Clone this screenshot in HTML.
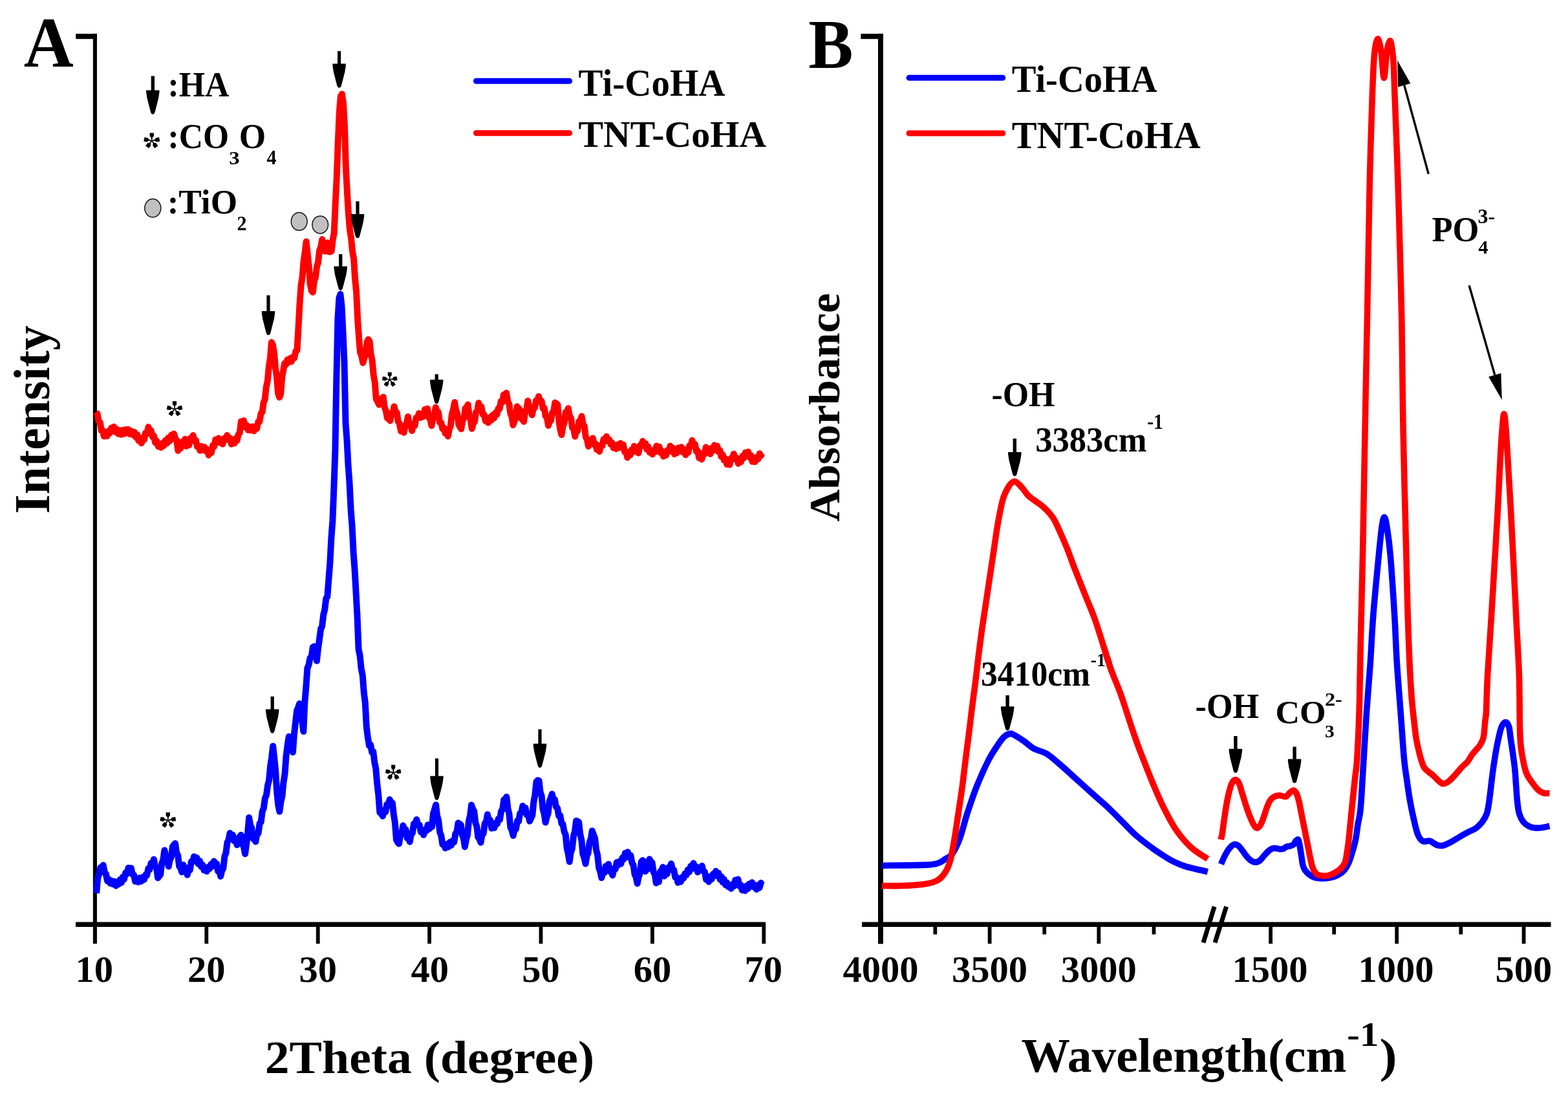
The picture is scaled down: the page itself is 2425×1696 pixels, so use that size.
<!DOCTYPE html>
<html><head><meta charset="utf-8"><title>XRD and FTIR spectra</title>
<style>
html,body{margin:0;padding:0;background:#fff;}
svg{display:block;}
text{font-family:"Liberation Serif","Times New Roman",serif;font-weight:bold;fill:#000;}
</style></head><body>
<svg width="2425" height="1696" viewBox="0 0 2425 1696">
<rect width="2425" height="1696" fill="#fff"/>

<g stroke="#000" fill="none" stroke-linecap="butt">
<path d="M117.2,56.2 L150,56.2" stroke-width="7.9"/>
<path d="M146.9,52.3 L146.9,1433" stroke-width="6.1"/>
<path d="M117,1429.2 L1184.1,1429.2" stroke-width="7.6"/>
<path d="M146.9,1429 L146.9,1459" stroke-width="6.1"/>
<path d="M319.3,1429 L319.3,1459" stroke-width="5.8"/>
<path d="M491.7,1429 L491.7,1459" stroke-width="5.8"/>
<path d="M664.1,1429 L664.1,1459" stroke-width="5.8"/>
<path d="M836.5,1429 L836.5,1459" stroke-width="5.8"/>
<path d="M1008.9,1429 L1008.9,1459" stroke-width="5.8"/>
<path d="M1181.3,1429 L1181.3,1459" stroke-width="5.8"/>
</g>
<text transform="translate(116.48,1517.83) scale(0.58500,0.57000)" font-size="100">10</text>
<text transform="translate(290.05,1517.83) scale(0.58500,0.57000)" font-size="100">20</text>
<text transform="translate(462.45,1517.83) scale(0.58500,0.57000)" font-size="100">30</text>
<text transform="translate(635.58,1517.83) scale(0.58500,0.57000)" font-size="100">40</text>
<text transform="translate(807.25,1517.83) scale(0.58500,0.57000)" font-size="100">50</text>
<text transform="translate(979.80,1517.83) scale(0.58500,0.57000)" font-size="100">60</text>
<text transform="translate(1151.61,1517.83) scale(0.58500,0.57000)" font-size="100">70</text>
<g stroke="#000" fill="none" stroke-linecap="butt">
<path d="M1331.3,56.2 L1365.9,56.2" stroke-width="7.9"/>
<path d="M1361.9,52.3 L1361.9,1433" stroke-width="7.9"/>
<path d="M1333,1429.2 L2398.6,1429.2" stroke-width="7.6"/>
<path d="M1530.6,1429 L1530.6,1459" stroke-width="5.8"/>
<path d="M1699.3,1429 L1699.3,1459" stroke-width="5.8"/>
<path d="M1965.1,1429 L1965.1,1459" stroke-width="5.8"/>
<path d="M2160.2,1429 L2160.2,1459" stroke-width="5.8"/>
<path d="M2356.6,1429 L2356.6,1459" stroke-width="5.8"/>
<path d="M1361.9,1429 L1361.9,1459.3" stroke-width="7.9"/>
<path d="M1446.3,1429 L1446.3,1444.6" stroke-width="5.8"/>
<path d="M1615.2,1429 L1615.2,1444.6" stroke-width="5.8"/>
<path d="M1784.5,1429 L1784.5,1444.6" stroke-width="5.8"/>
<path d="M2063.2,1429 L2063.2,1444.6" stroke-width="5.8"/>
<path d="M2259.3,1429 L2259.3,1444.6" stroke-width="5.8"/>
</g>
<g stroke="#000" stroke-width="7" fill="none"><path d="M1861,1457.4 L1878.1,1401.6"/><path d="M1879,1457.4 L1896.6,1401.6"/></g>
<text transform="translate(1303.53,1518.03) scale(0.58500,0.57000)" font-size="100">4000</text>
<text transform="translate(1472.10,1518.03) scale(0.58500,0.57000)" font-size="100">3500</text>
<text transform="translate(1640.80,1518.03) scale(0.58500,0.57000)" font-size="100">3000</text>
<text transform="translate(1905.43,1518.03) scale(0.58500,0.57000)" font-size="100">1500</text>
<text transform="translate(2100.53,1518.03) scale(0.58500,0.57000)" font-size="100">1000</text>
<text transform="translate(2312.43,1518.03) scale(0.58500,0.57000)" font-size="100">500</text>
<g fill="none" stroke-linejoin="round" stroke-linecap="butt">
<path d="M148.5,637.0 L150.6,639.8 L152.7,651.3 L154.8,653.1 L156.8,665.9 L158.9,665.7 L160.9,674.6 L163.3,670.1 L165.6,674.3 L167.6,666.6 L169.7,669.9 L172.1,661.5 L174.1,666.6 L176.2,659.7 L178.3,667.6 L180.5,663.6 L182.7,670.7 L185.0,665.3 L187.1,671.8 L189.5,664.9 L192.0,670.9 L194.3,664.0 L196.3,669.2 L198.7,664.0 L201.2,671.3 L203.3,666.6 L205.4,672.3 L207.8,667.9 L209.9,675.8 L212.2,671.9 L214.3,681.3 L216.5,676.7 L218.8,685.2 L220.9,677.4 L223.0,679.8 L225.0,669.2 L227.3,670.9 L229.5,660.1 L231.7,666.7 L233.7,665.8 L235.9,675.4 L237.9,673.8 L240.1,684.3 L242.4,681.8 L244.8,690.3 L246.8,686.2 L249.0,691.9 L251.2,685.1 L253.2,689.2 L255.6,681.0 L258.1,685.5 L260.1,676.9 L262.5,681.7 L264.9,672.6 L266.9,678.5 L269.0,670.5 L271.1,678.1 L273.2,680.2 L275.3,696.7 L277.4,689.5 L279.4,693.2 L281.6,683.1 L283.9,685.1 L286.1,678.8 L288.1,689.8 L290.3,687.1 L292.3,688.3 L294.4,677.4 L296.6,680.3 L298.6,673.1 L300.7,682.1 L302.9,680.6 L305.0,690.5 L307.1,689.2 L309.5,696.6 L311.7,690.1 L314.1,696.1 L316.2,691.0 L318.4,697.3 L320.6,695.0 L322.8,703.7 L324.8,696.7 L327.0,699.9 L329.1,688.4 L331.2,690.3 L333.4,679.4 L335.5,682.1 L338.0,677.6 L340.2,684.4 L342.2,681.3 L344.3,686.6 L346.7,677.8 L348.9,680.1 L351.2,673.0 L353.5,680.1 L355.7,677.2 L358.0,686.7 L360.0,680.4 L362.3,685.4 L364.4,677.9 L366.5,681.4 L368.7,671.8 L370.8,668.8 L372.9,651.4 L374.9,654.7 L377.0,650.3 L379.4,660.6 L381.4,657.6 L383.9,664.9 L386.1,659.8 L388.3,665.4 L390.6,659.4 L392.9,666.2 L395.1,659.8 L397.2,662.7 L399.4,652.1 L401.4,651.7 L403.5,639.5 L405.6,637.0 L407.6,622.3 L409.6,618.0 L411.7,598.7 L413.8,589.0 L415.8,567.0 L417.9,553.5 L419.9,529.3 L421.9,533.4 L424.0,545.2 L426.0,569.2 L428.0,582.1 L430.0,607.7 L432.1,614.2 L434.1,609.5 L436.1,584.0 L438.1,572.9 L440.2,561.7 L442.3,563.8 L444.4,556.1 L446.6,560.1 L448.7,553.9 L451.0,558.9 L453.2,551.6 L455.2,553.4 L457.4,543.0 L459.4,541.7 L461.4,508.5 L463.4,471.3 L465.4,442.3 L467.5,429.1 L469.5,405.0 L471.5,390.8 L473.6,373.5 L475.6,392.5 L477.6,410.2 L479.7,438.8 L481.7,449.2 L483.8,451.8 L485.9,434.4 L487.9,429.2 L490.0,412.1 L492.0,405.9 L494.1,386.9 L496.1,382.2 L498.3,370.1 L500.4,384.9 L502.5,388.5 L504.5,385.1 L506.5,375.3 L508.6,389.2 L510.6,389.4 L512.7,388.3 L514.7,370.4 L516.7,360.5 L518.7,315.1 L520.7,275.2 L522.7,221.1 L524.8,173.7 L526.8,149.1 L528.9,145.4 L530.9,159.1 L532.9,193.1 L534.9,259.8 L537.0,298.8 L539.0,331.4 L541.0,355.4 L543.0,367.8 L545.1,388.8 L547.1,399.8 L549.1,431.3 L551.1,450.7 L553.1,493.1 L555.2,523.6 L557.2,545.2 L559.2,550.5 L561.3,560.9 L563.5,552.9 L565.5,548.4 L567.6,529.1 L569.6,524.7 L571.6,527.9 L573.6,547.1 L575.7,557.8 L577.7,579.6 L579.7,590.6 L581.7,616.7 L583.8,620.6 L586.2,625.7 L588.3,616.4 L590.6,621.2 L592.7,613.9 L594.7,629.7 L596.8,635.0 L599.0,646.5 L601.1,645.0 L603.3,650.5 L605.4,638.7 L607.5,638.6 L609.5,628.4 L611.6,637.8 L613.7,638.0 L615.7,651.6 L617.7,654.2 L620.1,666.7 L622.5,662.6 L624.7,668.8 L626.8,657.4 L628.8,655.3 L630.9,644.2 L633.0,654.5 L635.1,655.6 L637.2,665.9 L639.2,656.3 L641.4,658.5 L643.6,645.9 L645.8,646.5 L648.0,639.0 L650.4,645.7 L652.8,640.3 L654.9,644.0 L657.0,632.9 L659.1,633.4 L661.1,631.7 L663.3,645.7 L665.3,647.3 L667.4,658.1 L669.5,648.2 L671.6,642.9 L673.7,629.8 L675.8,635.4 L678.0,637.4 L680.1,653.1 L682.3,653.6 L684.4,663.0 L686.5,661.2 L688.6,669.9 L690.7,667.3 L692.8,674.4 L694.8,664.0 L696.8,658.7 L698.9,640.4 L701.0,633.1 L703.1,621.9 L705.1,634.0 L707.1,638.5 L709.2,656.0 L711.2,659.8 L713.3,663.3 L715.4,650.1 L717.5,646.8 L719.5,631.3 L721.6,629.9 L723.7,625.6 L725.7,642.7 L727.8,649.0 L729.8,662.8 L731.9,654.4 L733.9,652.6 L736.1,637.4 L738.2,635.1 L740.2,623.0 L742.3,629.2 L744.4,628.5 L746.6,640.7 L748.8,641.2 L750.9,651.0 L753.0,647.5 L755.1,653.6 L757.2,645.2 L759.5,649.9 L761.9,641.6 L764.2,646.4 L766.2,638.3 L768.4,641.0 L770.6,631.5 L772.7,632.1 L774.7,620.2 L776.8,622.0 L779.0,610.1 L781.2,613.4 L783.2,607.4 L785.3,620.7 L787.4,624.7 L789.5,639.8 L791.5,644.4 L793.5,657.2 L795.5,651.5 L797.6,645.9 L799.7,628.5 L801.8,631.0 L804.0,632.8 L806.0,646.8 L808.1,648.8 L810.1,651.9 L812.1,637.7 L814.2,633.9 L816.3,619.8 L818.5,629.9 L820.7,630.0 L822.8,641.5 L824.9,631.2 L827.0,630.5 L829.1,619.0 L831.1,620.2 L833.2,612.7 L835.3,621.1 L837.5,619.9 L839.7,631.7 L841.7,630.7 L843.8,643.4 L845.9,645.7 L848.0,658.0 L850.0,651.6 L852.0,650.5 L854.1,638.1 L856.3,635.9 L858.3,622.6 L860.4,623.9 L862.4,625.6 L864.5,651.1 L866.5,664.5 L868.5,672.2 L870.6,658.9 L872.7,653.9 L874.8,637.4 L876.8,636.9 L878.8,631.2 L880.9,643.4 L883.0,646.3 L885.1,661.3 L887.1,662.7 L889.2,674.7 L891.2,666.8 L893.3,666.3 L895.5,651.4 L897.5,650.5 L899.6,643.5 L901.7,656.0 L903.8,658.8 L905.8,675.5 L907.9,679.2 L910.0,690.0 L912.3,681.4 L914.6,682.3 L916.7,677.4 L918.9,687.2 L921.0,685.8 L923.0,695.1 L925.1,692.2 L927.2,698.1 L929.3,687.9 L931.4,689.4 L933.5,679.1 L935.7,682.0 L938.0,674.8 L940.0,682.0 L942.4,679.7 L944.5,686.9 L946.5,684.4 L948.8,692.6 L950.8,689.1 L953.1,694.0 L955.2,687.5 L957.5,692.2 L959.6,685.2 L961.7,690.9 L963.9,687.4 L966.0,698.7 L968.2,698.1 L970.3,707.5 L972.4,699.4 L974.5,703.8 L976.7,695.3 L978.8,699.0 L980.8,689.8 L983.2,696.3 L985.3,692.8 L987.4,700.5 L989.7,688.7 L991.8,689.2 L994.0,682.0 L996.1,689.4 L998.2,685.4 L1000.3,694.9 L1002.3,690.4 L1004.7,699.4 L1006.7,696.6 L1009.1,702.3 L1011.1,695.7 L1013.2,698.9 L1015.3,689.5 L1017.4,695.1 L1019.6,690.8 L1021.7,700.0 L1023.9,697.3 L1025.9,705.6 L1028.0,700.5 L1030.1,703.8 L1032.3,696.0 L1034.4,698.3 L1036.5,689.4 L1038.8,695.2 L1040.9,692.7 L1043.0,702.2 L1045.1,697.5 L1047.1,700.3 L1049.4,692.3 L1051.6,696.2 L1053.8,691.2 L1055.9,698.8 L1058.1,694.7 L1060.3,703.3 L1062.3,698.3 L1064.4,699.6 L1066.4,688.9 L1068.4,689.2 L1070.5,680.8 L1072.6,689.4 L1074.8,686.8 L1076.9,697.8 L1079.0,696.9 L1081.2,708.0 L1083.2,704.8 L1085.3,710.2 L1087.4,700.7 L1089.6,702.1 L1091.8,691.3 L1094.1,696.5 L1096.4,693.8 L1098.6,701.9 L1100.8,692.7 L1102.8,697.0 L1104.9,688.3 L1107.1,692.5 L1109.1,689.5 L1111.3,698.6 L1113.4,696.3 L1115.5,706.1 L1117.8,703.1 L1119.9,711.7 L1122.2,709.2 L1124.3,718.1 L1126.4,714.2 L1128.5,718.5 L1130.5,708.3 L1132.6,710.3 L1134.8,701.7 L1137.1,709.6 L1139.4,707.9 L1141.8,716.7 L1143.9,710.3 L1146.1,714.1 L1148.4,704.8 L1150.4,708.2 L1152.7,699.7 L1155.0,702.6 L1157.1,698.5 L1159.4,707.3 L1161.5,704.1 L1163.5,713.7 L1165.5,709.0 L1167.8,714.0 L1170.0,706.9 L1172.4,709.9 L1174.7,701.2 L1176.9,704.6 L1178.0,701.3" stroke="#ff0000" stroke-width="10"/>
<path d="M149.2,1381.0 L151.2,1357.4 L153.2,1351.5 L155.5,1341.1 L157.7,1343.3 L159.7,1337.5 L161.9,1349.2 L163.9,1351.3 L166.0,1362.0 L168.2,1359.3 L170.5,1365.7 L172.7,1361.7 L174.9,1367.1 L177.1,1362.7 L179.4,1369.5 L181.4,1363.4 L183.5,1367.0 L185.7,1359.7 L188.0,1364.5 L190.0,1355.7 L192.0,1359.3 L194.2,1349.2 L196.4,1351.1 L198.6,1341.7 L200.7,1345.3 L202.8,1342.1 L204.8,1351.7 L207.0,1352.5 L209.1,1362.7 L211.1,1358.1 L213.6,1363.8 L215.8,1357.3 L218.2,1362.7 L220.4,1356.2 L222.8,1360.0 L225.0,1352.9 L227.2,1353.3 L229.4,1342.8 L231.4,1344.5 L233.6,1334.4 L235.8,1336.2 L237.9,1328.6 L239.9,1339.0 L242.1,1342.0 L244.1,1357.4 L246.1,1354.9 L248.2,1352.1 L250.2,1334.8 L252.3,1329.6 L254.4,1314.5 L256.6,1325.2 L258.7,1327.2 L260.7,1339.5 L262.7,1329.8 L264.9,1324.9 L266.9,1308.7 L268.9,1306.3 L271.0,1303.9 L273.0,1318.3 L275.2,1322.5 L277.2,1339.5 L279.2,1341.8 L281.2,1348.3 L283.4,1336.9 L285.5,1341.7 L287.6,1341.8 L289.7,1352.7 L291.7,1344.2 L293.7,1345.3 L295.8,1332.1 L298.0,1332.6 L300.1,1324.3 L302.4,1330.6 L304.4,1326.1 L306.8,1335.8 L309.0,1331.1 L311.1,1339.9 L313.2,1337.0 L315.5,1345.5 L317.7,1342.1 L319.8,1347.2 L321.9,1340.5 L324.1,1343.0 L326.4,1336.0 L328.6,1339.2 L330.9,1331.5 L332.9,1336.4 L335.1,1335.2 L337.2,1347.0 L339.2,1346.4 L341.2,1355.0 L343.3,1345.6 L345.3,1342.5 L347.4,1323.8 L349.4,1319.0 L351.5,1302.4 L353.5,1298.7 L355.6,1288.0 L357.7,1295.2 L359.9,1290.7 L362.3,1300.3 L364.5,1298.9 L366.6,1306.3 L368.7,1298.0 L370.7,1293.5 L372.8,1290.9 L374.9,1305.3 L377.0,1309.2 L379.1,1320.2 L381.1,1305.5 L383.1,1288.1 L385.1,1264.1 L387.2,1275.9 L389.2,1279.8 L391.3,1296.6 L393.3,1297.8 L395.4,1301.3 L397.5,1289.0 L399.5,1288.3 L401.6,1272.8 L403.6,1271.1 L405.7,1254.6 L407.8,1249.5 L409.9,1234.0 L412.0,1229.3 L414.1,1214.0 L416.1,1206.5 L418.1,1184.4 L420.1,1171.4 L422.2,1153.4 L424.2,1171.6 L426.2,1192.1 L428.2,1224.5 L430.3,1245.0 L432.3,1254.7 L434.4,1239.4 L436.4,1231.4 L438.4,1209.8 L440.5,1197.0 L442.5,1169.1 L444.5,1153.1 L446.7,1138.8 L448.8,1152.5 L450.9,1156.4 L452.9,1163.0 L454.9,1135.6 L456.9,1118.1 L459.1,1098.5 L461.1,1094.0 L463.2,1087.7 L465.2,1105.9 L467.3,1114.9 L469.3,1130.9 L471.3,1086.8 L473.4,1061.2 L475.4,1032.9 L477.5,1027.8 L479.6,1017.0 L481.7,1015.7 L483.8,1000.5 L485.9,999.4 L487.9,1000.4 L489.9,1021.7 L491.9,1003.2 L493.9,989.2 L496.1,972.4 L498.1,968.5 L500.2,950.6 L502.2,942.7 L504.3,925.3 L506.3,922.2 L508.3,896.0 L510.3,871.0 L512.4,831.4 L514.4,804.8 L516.4,753.7 L518.4,696.8 L520.4,583.2 L522.4,493.4 L524.4,460.9 L526.4,454.8 L528.5,473.0 L530.5,513.6 L532.5,560.3 L534.5,653.9 L536.5,680.6 L538.5,718.8 L540.5,746.1 L542.6,787.8 L544.6,814.2 L546.6,854.1 L548.6,881.1 L550.6,916.5 L552.6,954.2 L554.6,1004.0 L556.7,1013.9 L558.7,1033.9 L560.8,1044.2 L562.8,1071.0 L564.8,1086.5 L566.8,1124.2 L568.9,1140.4 L571.0,1152.8 L573.1,1151.3 L575.2,1163.2 L577.2,1161.8 L579.3,1178.6 L581.3,1188.7 L583.3,1212.1 L585.3,1229.0 L587.3,1256.2 L589.7,1257.4 L591.9,1261.8 L594.1,1252.4 L596.3,1255.2 L598.4,1243.5 L600.5,1244.8 L602.7,1236.1 L604.8,1240.0 L606.9,1241.4 L608.9,1259.9 L610.9,1271.9 L612.9,1297.8 L615.0,1302.3 L617.1,1304.5 L619.3,1290.5 L621.4,1287.7 L623.4,1276.3 L625.4,1282.2 L627.5,1282.4 L629.6,1295.7 L631.7,1294.9 L633.8,1301.4 L635.9,1288.8 L637.9,1288.0 L640.0,1273.7 L642.1,1273.5 L644.3,1266.9 L646.5,1275.6 L648.7,1275.5 L650.9,1286.3 L652.9,1285.0 L655.2,1290.8 L657.2,1282.8 L659.5,1284.5 L661.7,1275.2 L663.8,1281.6 L666.0,1276.5 L668.0,1278.4 L670.0,1257.8 L672.1,1251.3 L674.1,1244.3 L676.1,1261.3 L678.2,1268.6 L680.2,1286.5 L682.3,1291.8 L684.4,1305.5 L686.5,1305.3 L688.7,1311.3 L691.2,1304.9 L693.4,1309.4 L695.7,1302.0 L697.9,1307.0 L700.3,1299.5 L702.3,1302.0 L704.4,1288.7 L706.5,1286.4 L708.6,1272.3 L710.7,1273.7 L712.8,1275.3 L714.8,1291.0 L716.8,1295.6 L718.9,1309.2 L720.9,1298.2 L723.0,1291.0 L725.0,1269.1 L727.0,1261.5 L729.1,1244.5 L731.2,1250.7 L733.3,1254.1 L735.3,1271.8 L737.4,1277.9 L739.4,1294.6 L741.4,1296.7 L743.5,1302.6 L745.6,1289.6 L747.7,1288.7 L749.8,1272.8 L751.9,1270.8 L753.9,1259.2 L756.1,1268.3 L758.1,1267.8 L760.3,1280.6 L762.5,1276.9 L764.5,1280.0 L766.6,1272.3 L768.8,1273.9 L770.8,1265.8 L773.0,1267.2 L775.1,1254.0 L777.1,1251.7 L779.3,1236.3 L781.4,1235.5 L783.4,1231.9 L785.5,1250.1 L787.5,1258.7 L789.5,1279.5 L791.6,1283.4 L793.7,1292.0 L795.9,1281.5 L797.9,1281.9 L800.1,1268.7 L802.1,1269.8 L804.3,1257.2 L806.3,1256.6 L808.4,1246.0 L810.4,1250.6 L812.5,1248.9 L814.8,1259.6 L817.1,1259.7 L819.1,1269.6 L821.2,1265.1 L823.3,1260.7 L825.3,1240.5 L827.4,1229.0 L829.5,1208.6 L831.5,1206.4 L833.6,1207.0 L835.6,1224.6 L837.6,1230.6 L839.6,1251.3 L841.6,1258.1 L843.6,1271.6 L845.7,1262.8 L847.7,1257.4 L849.7,1238.8 L851.7,1233.8 L853.8,1227.6 L855.9,1238.0 L857.9,1235.9 L860.0,1247.7 L862.1,1249.1 L864.2,1261.3 L866.3,1260.5 L868.5,1273.3 L870.5,1274.1 L872.6,1285.7 L874.7,1290.5 L876.7,1311.4 L878.7,1319.8 L880.7,1332.2 L882.8,1317.8 L884.9,1311.8 L887.0,1292.4 L889.0,1285.6 L891.1,1269.0 L893.1,1269.7 L895.2,1271.1 L897.3,1289.7 L899.4,1299.0 L901.4,1320.3 L903.5,1326.2 L905.5,1335.4 L907.6,1323.3 L909.6,1318.7 L911.7,1302.5 L913.8,1296.7 L915.8,1284.4 L917.9,1290.3 L920.0,1295.6 L922.1,1314.0 L924.1,1321.8 L926.2,1341.5 L928.2,1347.5 L930.3,1357.2 L932.5,1349.4 L934.7,1349.2 L936.7,1339.3 L938.8,1339.5 L941.1,1336.0 L943.2,1347.4 L945.3,1346.8 L947.4,1353.3 L949.7,1342.6 L951.8,1343.6 L953.8,1333.2 L956.0,1337.6 L958.4,1331.2 L960.4,1335.5 L962.6,1325.9 L964.7,1328.3 L966.8,1319.0 L968.9,1323.6 L970.9,1317.2 L973.1,1325.7 L975.4,1322.6 L977.5,1334.2 L979.5,1337.1 L981.6,1352.0 L983.6,1355.7 L985.6,1365.9 L987.6,1356.2 L989.8,1350.1 L991.8,1332.1 L993.9,1330.2 L996.0,1332.0 L998.1,1347.2 L1000.1,1344.6 L1002.3,1343.2 L1004.4,1328.3 L1006.5,1331.6 L1008.6,1333.7 L1010.7,1348.3 L1012.7,1352.0 L1014.8,1365.3 L1016.9,1362.9 L1018.9,1363.4 L1021.0,1347.4 L1023.1,1345.8 L1025.2,1340.6 L1027.3,1354.6 L1029.5,1350.3 L1031.6,1351.2 L1033.8,1341.0 L1036.1,1341.6 L1038.1,1335.2 L1040.1,1345.0 L1042.1,1345.0 L1044.3,1356.2 L1046.4,1356.4 L1048.5,1364.6 L1050.7,1359.8 L1052.9,1363.2 L1055.0,1356.1 L1057.1,1358.0 L1059.3,1350.6 L1061.6,1352.8 L1063.8,1344.7 L1065.9,1348.3 L1068.2,1339.1 L1070.4,1343.0 L1072.5,1334.5 L1074.9,1342.9 L1077.0,1340.1 L1079.1,1348.5 L1081.5,1341.2 L1083.6,1345.6 L1085.7,1338.6 L1087.8,1347.1 L1089.9,1347.9 L1092.1,1359.9 L1094.1,1356.7 L1096.3,1363.2 L1098.3,1354.9 L1100.6,1359.4 L1102.9,1351.1 L1105.0,1354.3 L1107.1,1346.8 L1109.2,1354.2 L1111.3,1349.8 L1113.6,1359.7 L1115.7,1355.3 L1117.7,1364.1 L1119.7,1359.3 L1122.0,1368.1 L1124.2,1364.6 L1126.4,1371.1 L1128.5,1368.3 L1130.6,1373.8 L1132.8,1367.1 L1134.8,1370.3 L1137.2,1360.5 L1139.2,1364.6 L1141.4,1359.4 L1143.6,1370.0 L1145.7,1368.1 L1147.8,1376.3 L1150.1,1371.4 L1152.3,1377.2 L1154.4,1369.6 L1156.6,1374.1 L1158.7,1366.4 L1161.1,1370.4 L1163.1,1364.2 L1165.4,1371.2 L1167.7,1368.5 L1170.0,1375.0 L1172.4,1368.3 L1174.4,1372.7 L1176.8,1365.0 L1177.9,1367.5" stroke="#0000ff" stroke-width="10"/>
<path d="M1363.5,1338.2 C1375.3,1338.0 1419.3,1337.8 1434.1,1337.1 C1448.8,1336.4 1447.3,1335.5 1452.0,1334.0 C1456.7,1332.5 1458.7,1330.2 1462.0,1328.0 C1465.3,1325.8 1468.4,1326.1 1472.1,1320.9 C1475.8,1315.7 1480.2,1307.4 1484.3,1296.6 C1488.3,1285.8 1492.0,1269.6 1496.4,1256.1 C1500.8,1242.6 1505.2,1229.1 1510.6,1215.6 C1516.0,1202.1 1523.7,1185.3 1528.8,1175.2 C1533.9,1165.1 1537.1,1160.9 1541.0,1155.0 C1544.9,1149.1 1548.6,1143.4 1552.0,1140.0 C1555.4,1136.6 1558.6,1135.2 1561.2,1134.5 C1563.8,1133.8 1564.1,1134.0 1567.8,1135.9 C1571.5,1137.8 1578.3,1142.1 1583.5,1145.7 C1588.7,1149.3 1593.3,1154.2 1599.2,1157.5 C1605.1,1160.8 1612.3,1161.4 1618.8,1165.3 C1625.3,1169.2 1631.9,1175.5 1638.4,1181.0 C1644.9,1186.5 1651.5,1192.7 1658.0,1198.6 C1664.5,1204.5 1671.0,1210.4 1677.6,1216.3 C1684.1,1222.2 1690.8,1228.0 1697.3,1233.9 C1703.8,1239.8 1710.4,1245.4 1716.9,1251.6 C1723.4,1257.8 1730.0,1264.7 1736.5,1271.2 C1743.0,1277.7 1749.6,1284.9 1756.1,1290.8 C1762.6,1296.7 1769.2,1301.6 1775.7,1306.5 C1782.2,1311.4 1788.8,1316.0 1795.3,1320.2 C1801.8,1324.5 1808.4,1328.7 1814.9,1332.0 C1821.4,1335.3 1825.7,1337.2 1834.5,1339.8 C1843.3,1342.4 1862.2,1346.3 1867.8,1347.6" stroke="#0000ff" stroke-width="9.6"/>
<path d="M1888.5,1336.0 C1889.2,1334.2 1891.3,1329.0 1893.0,1325.5 C1894.7,1322.0 1896.9,1317.9 1898.9,1314.9 C1900.9,1312.0 1903.0,1309.4 1904.8,1307.8 C1906.6,1306.2 1907.8,1305.4 1909.6,1305.4 C1911.4,1305.4 1913.5,1306.2 1915.5,1307.8 C1917.5,1309.4 1919.4,1312.3 1921.4,1314.9 C1923.4,1317.5 1925.1,1320.6 1927.3,1323.2 C1929.5,1325.8 1932.0,1328.7 1934.4,1330.3 C1936.8,1331.9 1939.1,1333.0 1941.5,1333.0 C1943.9,1333.0 1946.2,1332.1 1948.6,1330.3 C1951.0,1328.5 1953.3,1324.6 1955.7,1322.0 C1958.1,1319.4 1960.4,1316.7 1962.8,1314.9 C1965.2,1313.1 1967.3,1311.7 1969.9,1311.3 C1972.5,1310.9 1975.8,1312.3 1978.2,1312.5 C1980.6,1312.7 1982.1,1313.1 1984.1,1312.5 C1986.1,1311.9 1988.0,1309.8 1990.0,1309.0 C1992.0,1308.2 1994.1,1308.4 1995.9,1307.8 C1997.7,1307.2 1999.3,1306.7 2000.7,1305.4 C2002.1,1304.1 2003.0,1301.2 2004.2,1300.0 C2005.4,1298.8 2006.8,1297.0 2007.8,1298.3 C2008.8,1299.6 2009.3,1303.8 2010.1,1307.8 C2010.9,1311.8 2011.7,1317.1 2012.5,1322.0 C2013.3,1326.9 2013.9,1333.5 2014.9,1337.4 C2015.9,1341.3 2016.6,1343.0 2018.4,1345.6 C2020.2,1348.1 2022.9,1350.8 2025.5,1352.7 C2028.1,1354.6 2030.5,1356.0 2033.8,1356.9 C2037.1,1357.8 2041.6,1358.1 2045.6,1358.1 C2049.5,1358.1 2053.6,1357.8 2057.5,1356.9 C2061.4,1356.0 2065.8,1354.6 2069.3,1352.7 C2072.9,1350.8 2076.0,1348.8 2078.8,1345.6 C2081.6,1342.4 2083.7,1338.7 2085.9,1333.8 C2088.1,1328.9 2090.0,1322.0 2091.8,1316.1 C2093.6,1310.2 2095.1,1305.2 2096.5,1298.3 C2097.9,1291.4 2098.7,1282.9 2100.0,1274.7 C2101.3,1266.5 2102.8,1265.7 2104.3,1249.0 C2105.8,1232.3 2107.4,1199.2 2109.0,1174.3 C2110.6,1149.4 2111.9,1124.4 2113.6,1099.5 C2115.3,1074.6 2117.6,1049.7 2119.3,1024.8 C2121.0,999.9 2121.7,977.7 2123.9,950.0 C2126.1,922.3 2130.1,881.2 2132.3,858.7 C2134.5,836.2 2135.6,824.9 2137.0,815.0 C2138.4,805.1 2139.6,799.5 2140.9,799.5 C2142.2,799.5 2143.4,805.1 2145.0,815.0 C2146.6,824.9 2148.4,836.2 2150.3,858.7 C2152.2,881.2 2154.9,922.3 2156.6,950.0 C2158.3,977.7 2158.8,999.9 2160.4,1024.8 C2162.0,1049.7 2164.1,1074.6 2166.0,1099.5 C2167.9,1124.4 2170.0,1156.8 2171.6,1174.3 C2173.2,1191.8 2174.2,1194.3 2175.6,1204.5 C2177.0,1214.7 2178.4,1225.2 2180.2,1235.6 C2182.0,1246.0 2184.4,1257.6 2186.5,1266.7 C2188.6,1275.8 2190.4,1284.4 2192.7,1290.0 C2195.0,1295.6 2197.4,1298.8 2200.5,1300.5 C2203.6,1302.2 2207.7,1299.2 2211.3,1300.2 C2214.9,1301.2 2218.8,1305.2 2222.2,1306.4 C2225.6,1307.6 2227.7,1308.1 2231.6,1307.2 C2235.5,1306.3 2240.7,1303.5 2245.6,1300.9 C2250.5,1298.3 2256.6,1294.2 2261.1,1291.6 C2265.6,1289.0 2268.9,1287.3 2272.5,1285.5 C2276.1,1283.7 2279.2,1283.0 2282.5,1280.5 C2285.8,1278.0 2289.6,1274.3 2292.4,1270.6 C2295.2,1266.9 2297.5,1263.3 2299.3,1258.1 C2301.1,1252.9 2301.9,1246.7 2303.0,1239.4 C2304.1,1232.1 2305.1,1222.8 2306.1,1214.5 C2307.1,1206.2 2308.0,1197.9 2309.2,1189.6 C2310.3,1181.3 2311.6,1173.0 2313.0,1164.7 C2314.4,1156.4 2316.3,1146.8 2317.9,1139.8 C2319.5,1132.8 2320.7,1126.9 2322.5,1123.0 C2324.3,1119.1 2326.7,1116.5 2328.5,1116.5 C2330.3,1116.5 2332.2,1119.1 2333.5,1123.0 C2334.8,1126.9 2335.0,1132.8 2336.0,1139.8 C2337.0,1146.8 2338.5,1156.4 2339.7,1164.7 C2340.8,1173.0 2342.1,1181.3 2342.9,1189.6 C2343.7,1197.9 2344.1,1206.2 2344.7,1214.5 C2345.3,1222.8 2345.8,1232.1 2346.6,1239.4 C2347.4,1246.7 2348.1,1252.9 2349.7,1258.1 C2351.2,1263.3 2353.4,1267.4 2355.9,1270.6 C2358.4,1273.8 2361.6,1275.9 2364.6,1277.5 C2367.6,1279.1 2370.6,1279.7 2374.0,1280.0 C2377.4,1280.3 2381.2,1280.0 2385.0,1279.5 C2388.8,1279.0 2394.6,1277.4 2396.5,1277.0" stroke="#0000ff" stroke-width="9.6"/>
<path d="M1363.5,1369.5 C1368.3,1369.5 1381.4,1369.9 1392.3,1369.5 C1403.2,1369.1 1419.6,1368.2 1428.9,1366.9 C1438.2,1365.7 1443.2,1364.2 1448.0,1362.0 C1452.8,1359.8 1455.2,1357.2 1458.0,1354.0 C1460.8,1350.8 1463.0,1347.2 1465.0,1343.0 C1467.0,1338.8 1468.2,1336.6 1470.1,1328.9 C1472.0,1321.2 1474.2,1308.7 1476.2,1296.6 C1478.2,1284.5 1480.3,1269.6 1482.3,1256.1 C1484.3,1242.6 1486.5,1229.1 1488.3,1215.6 C1490.1,1202.1 1491.5,1188.7 1493.2,1175.2 C1494.9,1161.7 1496.7,1148.2 1498.4,1134.7 C1500.1,1121.2 1501.6,1107.7 1503.3,1094.2 C1505.0,1080.7 1506.9,1067.3 1508.6,1053.8 C1510.3,1040.3 1511.7,1026.8 1513.4,1013.3 C1515.1,999.8 1516.8,986.3 1518.7,972.8 C1520.6,959.3 1522.8,945.8 1524.8,932.3 C1526.8,918.8 1528.8,905.4 1530.8,891.9 C1532.8,878.4 1534.9,864.9 1536.9,851.4 C1538.9,837.9 1540.7,824.2 1543.0,811.0 C1545.3,797.8 1548.2,781.8 1551.0,772.0 C1553.8,762.2 1557.2,756.6 1560.0,752.0 C1562.8,747.4 1565.5,745.2 1568.0,744.5 C1570.5,743.8 1572.4,745.8 1575.0,748.0 C1577.6,750.2 1581.0,754.5 1583.5,757.5 C1586.0,760.5 1587.4,763.4 1590.0,766.0 C1592.6,768.6 1595.0,770.0 1599.2,773.1 C1603.4,776.2 1610.0,780.3 1614.9,784.9 C1619.8,789.5 1624.7,794.7 1628.6,800.6 C1632.5,806.5 1634.8,812.4 1638.4,820.2 C1642.0,828.0 1646.3,837.8 1650.2,847.6 C1654.1,857.4 1657.4,867.2 1662.0,879.0 C1666.6,890.8 1672.4,905.1 1677.6,918.2 C1682.8,931.3 1688.4,943.8 1693.3,957.5 C1698.2,971.2 1703.0,987.5 1707.2,1000.6 C1711.4,1013.7 1714.4,1024.1 1718.6,1035.9 C1722.8,1047.7 1728.2,1059.4 1732.5,1071.2 C1736.8,1083.0 1740.4,1094.7 1744.3,1106.5 C1748.2,1118.3 1752.2,1130.7 1756.1,1141.8 C1760.0,1152.9 1763.2,1161.3 1767.8,1173.1 C1772.4,1184.9 1778.3,1200.0 1783.5,1212.4 C1788.7,1224.8 1793.3,1235.8 1799.2,1247.6 C1805.1,1259.3 1811.6,1272.4 1818.8,1282.9 C1826.0,1293.4 1834.2,1302.9 1842.4,1310.4 C1850.6,1317.9 1863.6,1325.1 1867.8,1328.0" stroke="#ff0000" stroke-width="9.6"/>
<path d="M1888.0,1298.0 C1888.3,1296.7 1889.3,1294.9 1890.1,1290.0 C1890.9,1285.1 1891.9,1276.2 1893.0,1268.7 C1894.1,1261.2 1895.3,1252.4 1896.6,1245.1 C1897.9,1237.8 1899.2,1230.8 1900.7,1225.0 C1902.2,1219.2 1903.7,1213.7 1905.4,1210.5 C1907.1,1207.3 1909.0,1205.5 1910.8,1205.6 C1912.6,1205.6 1914.3,1207.2 1916.1,1210.8 C1917.9,1214.4 1919.5,1221.4 1921.4,1227.3 C1923.3,1233.2 1925.3,1240.4 1927.3,1246.3 C1929.3,1252.2 1931.2,1257.9 1933.2,1262.8 C1935.2,1267.7 1937.4,1272.6 1939.2,1275.5 C1941.0,1278.4 1942.1,1280.3 1943.9,1280.2 C1945.7,1280.1 1948.0,1277.6 1949.8,1274.7 C1951.6,1271.8 1952.9,1267.2 1954.5,1262.8 C1956.1,1258.4 1957.7,1252.7 1959.3,1248.6 C1960.9,1244.5 1962.2,1240.8 1964.0,1238.0 C1965.8,1235.2 1967.5,1233.5 1969.9,1232.1 C1972.3,1230.7 1975.4,1229.8 1978.2,1229.7 C1981.0,1229.6 1984.5,1231.3 1986.5,1231.5 C1988.5,1231.7 1988.6,1231.9 1990.0,1230.9 C1991.4,1229.9 1993.0,1227.0 1994.8,1225.5 C1996.6,1224.0 1998.9,1221.7 2000.7,1222.0 C2002.5,1222.3 2004.0,1224.4 2005.4,1227.3 C2006.8,1230.2 2007.8,1234.3 2009.0,1239.2 C2010.2,1244.1 2011.3,1251.0 2012.5,1256.9 C2013.7,1262.8 2014.9,1268.8 2016.1,1274.7 C2017.3,1280.6 2018.4,1286.5 2019.6,1292.4 C2020.8,1298.3 2022.0,1304.2 2023.2,1310.1 C2024.4,1316.0 2025.5,1322.6 2026.7,1327.9 C2027.9,1333.2 2028.7,1338.1 2030.3,1342.0 C2031.9,1345.9 2033.7,1349.2 2036.2,1351.2 C2038.8,1353.2 2042.4,1353.7 2045.6,1354.0 C2048.8,1354.3 2051.9,1354.1 2055.1,1353.3 C2058.3,1352.5 2061.6,1350.9 2064.6,1349.2 C2067.6,1347.5 2070.3,1345.9 2072.9,1343.3 C2075.5,1340.7 2078.2,1338.3 2080.0,1333.8 C2081.8,1329.3 2082.5,1322.0 2083.5,1316.1 C2084.5,1310.2 2085.1,1305.2 2085.9,1298.3 C2086.7,1291.4 2087.4,1282.6 2088.2,1274.7 C2089.0,1266.8 2089.8,1258.9 2090.6,1251.0 C2091.4,1243.1 2092.2,1235.2 2093.0,1227.3 C2093.8,1219.4 2094.6,1212.5 2095.5,1203.7 C2096.4,1194.9 2097.6,1191.7 2098.7,1174.3 C2099.8,1156.9 2101.3,1124.4 2102.1,1099.5 C2102.9,1074.6 2103.1,1049.7 2103.6,1024.8 C2104.1,999.9 2104.7,977.7 2105.3,950.0 C2106.0,922.3 2106.6,905.5 2107.5,858.7 C2108.4,811.9 2109.9,729.4 2111.0,669.3 C2112.1,609.2 2113.4,545.9 2114.3,498.3 C2115.2,450.7 2115.7,421.9 2116.4,383.7 C2117.1,345.5 2117.7,307.4 2118.6,269.2 C2119.5,231.0 2121.1,182.8 2122.1,154.6 C2123.1,126.4 2123.6,113.8 2124.4,100.0 C2125.2,86.2 2125.8,78.6 2127.0,72.0 C2128.2,65.4 2130.0,59.0 2131.5,60.3 C2133.0,61.6 2134.5,70.0 2136.0,80.0 C2137.5,90.0 2138.9,120.5 2140.4,120.5 C2141.9,120.5 2143.3,89.6 2144.8,80.0 C2146.3,70.4 2148.2,63.8 2149.6,63.1 C2151.0,62.4 2152.1,69.8 2153.0,76.0 C2153.9,82.2 2154.6,86.9 2155.3,100.0 C2156.0,113.1 2156.2,126.4 2157.3,154.6 C2158.4,182.8 2160.3,231.0 2161.6,269.2 C2162.9,307.4 2163.9,345.5 2165.0,383.7 C2166.1,421.9 2167.0,450.7 2167.9,498.3 C2168.8,545.9 2169.0,609.2 2170.2,669.3 C2171.4,729.4 2173.7,811.9 2174.9,858.7 C2176.1,905.5 2176.3,922.3 2177.2,950.0 C2178.0,977.7 2179.0,1003.1 2180.0,1024.8 C2181.0,1046.5 2182.2,1065.6 2183.3,1080.0 C2184.4,1094.4 2185.3,1100.7 2186.5,1111.1 C2187.7,1121.5 2188.8,1132.9 2190.3,1142.2 C2191.9,1151.5 2193.9,1159.8 2195.8,1167.1 C2197.8,1174.4 2199.7,1181.4 2202.0,1185.8 C2204.3,1190.2 2207.2,1191.3 2209.8,1193.6 C2212.4,1195.9 2215.0,1197.5 2217.6,1199.8 C2220.2,1202.1 2222.8,1205.6 2225.3,1207.6 C2227.8,1209.6 2229.8,1211.8 2232.4,1211.8 C2235.0,1211.8 2237.9,1209.8 2240.9,1207.6 C2243.9,1205.3 2246.8,1201.9 2250.2,1198.3 C2253.6,1194.7 2257.8,1189.3 2261.1,1185.8 C2264.4,1182.3 2267.5,1180.3 2270.0,1177.2 C2272.5,1174.1 2274.1,1170.1 2276.2,1167.2 C2278.3,1164.3 2280.4,1162.2 2282.5,1159.7 C2284.6,1157.2 2286.7,1155.6 2288.7,1152.3 C2290.7,1149.0 2293.0,1146.0 2294.3,1139.8 C2295.7,1133.6 2296.1,1121.5 2296.8,1114.9 C2297.5,1108.3 2297.9,1111.8 2298.5,1100.0 C2299.1,1088.2 2299.3,1067.5 2300.6,1044.1 C2301.9,1020.6 2304.3,987.6 2306.1,959.3 C2307.9,931.0 2309.5,902.8 2311.2,874.5 C2312.9,846.2 2314.8,817.9 2316.3,789.6 C2317.9,761.3 2319.3,726.4 2320.5,704.8 C2321.7,683.2 2322.6,670.8 2323.5,660.0 C2324.4,649.2 2325.1,640.0 2326.0,640.0 C2326.9,640.0 2327.8,649.2 2328.7,660.0 C2329.6,670.8 2330.3,683.2 2331.6,704.8 C2332.9,726.4 2335.0,761.3 2336.6,789.6 C2338.2,817.9 2339.5,846.2 2340.9,874.5 C2342.3,902.8 2343.7,931.0 2345.1,959.3 C2346.5,987.6 2348.4,1014.0 2349.4,1044.1 C2350.4,1074.2 2349.9,1117.6 2351.0,1139.8 C2352.1,1162.0 2354.2,1167.8 2355.9,1177.2 C2357.6,1186.6 2358.8,1190.7 2360.9,1195.9 C2363.0,1201.1 2365.4,1204.0 2368.4,1208.3 C2371.4,1212.6 2376.0,1218.5 2379.1,1221.5 C2382.2,1224.5 2384.1,1225.2 2387.0,1226.0 C2389.9,1226.8 2394.9,1226.3 2396.5,1226.4" stroke="#ff0000" stroke-width="9.6"/>
</g>
<g stroke-width="9" stroke-linecap="round">
<path d="M736.5,125.3 L880.6,125.3" stroke="#0000ff"/>
<path d="M736.5,205.8 L880.6,205.8" stroke="#ff0000"/>
<path d="M1406,120.3 L1550.7,120.3" stroke="#0000ff"/>
<path d="M1406,206 L1550.7,206" stroke="#ff0000"/>
</g>
<text transform="translate(894.44,147.91) scale(0.57020,0.59104)" font-size="100">Ti-CoHA</text>
<text transform="translate(894.43,226.62) scale(0.57898,0.57910)" font-size="100">TNT-CoHA</text>
<text transform="translate(1564.75,142.21) scale(0.56490,0.58507)" font-size="100">Ti-CoHA</text>
<text transform="translate(1564.73,228.92) scale(0.58178,0.58358)" font-size="100">TNT-CoHA</text>
<text transform="translate(36.73,103.45) scale(1.06667,1.10534)" font-size="100">A</text>
<text transform="translate(1250.24,104.70) scale(1.03840,1.08092)" font-size="100">B</text>
<text transform="translate(409.77,1658.57) scale(0.75696,0.72857)" font-size="100">2Theta (degree)</text>
<text transform="translate(1579.47,1656.85) scale(0.75479,0.72967)" font-size="100">Wavelength(cm</text>
<text transform="translate(2083.34,1617.10) scale(0.58792,0.52672)" font-size="100">-1</text>
<text transform="translate(2133.45,1657.41) scale(0.81538,0.73778)" font-size="100">)</text>
<text transform="translate(76.39,794.20) rotate(-90) scale(0.77001,0.78161)" font-size="100">Intensity</text>
<text transform="translate(1298.13,806.49) rotate(-90) scale(0.69123,0.66857)" font-size="100">Absorbance</text>
<polygon points="233.7,117.5 239.0,117.5 239.0,139.4 246.5,139.4 246.5,142.7 245.0,152.3 243.0,160.1 241.0,167.9 239.3,174.2 237.7,176.4 234.9,176.4 233.3,174.2 231.6,167.9 229.6,160.1 227.6,152.3 226.1,142.7 226.1,139.4 233.7,139.4" fill="#000"/>
<text transform="translate(259.56,149.38) scale(0.51748,0.54815)" font-size="100">:HA</text>
<g fill="#000"><polygon points="234.14,217.50 233.66,212.42 231.60,210.85 231.60,205.40 237.90,205.40 237.90,210.85 235.84,212.42 235.36,217.50"/><polygon points="234.64,216.91 239.57,215.55 240.76,213.25 246.12,212.30 247.22,218.50 241.85,219.45 239.94,217.69 234.86,218.10"/><polygon points="235.24,217.15 238.62,220.97 241.21,221.04 244.41,225.44 239.32,229.14 236.12,224.74 236.86,222.26 234.26,217.86"/><polygon points="235.24,217.86 232.64,222.26 233.38,224.74 230.18,229.14 225.09,225.44 228.29,221.04 230.88,220.97 234.26,217.15"/><polygon points="234.64,218.10 229.56,217.69 227.65,219.45 222.28,218.50 223.38,212.30 228.74,213.25 229.93,215.55 234.86,216.91"/></g>
<text transform="translate(259.58,228.68) scale(0.51554,0.54370)" font-size="100">:CO</text>
<text transform="translate(354.18,253.80) scale(0.32941,0.30149)" font-size="100">3</text>
<text transform="translate(369.74,228.95) scale(0.53235,0.54776)" font-size="100">O</text>
<text transform="translate(412.45,253.70) scale(0.30108,0.30992)" font-size="100">4</text>
<ellipse cx="236.3" cy="321.7" rx="12.5" ry="14.1" fill="#c0c0c0" stroke="#111" stroke-width="1.5"/>
<text transform="translate(258.64,329.50) scale(0.53194,0.53185)" font-size="100">:TiO</text>
<text transform="translate(366.60,355.70) scale(0.30120,0.31970)" font-size="100">2</text>
<polygon points="522.0,79.0 527.2,79.0 527.2,98.5 534.8,98.5 534.8,101.8 533.3,111.5 531.3,119.2 529.3,127.0 527.6,133.3 526.0,135.5 523.2,135.5 521.6,133.3 519.9,127.0 517.9,119.2 515.9,111.5 514.4,101.8 514.4,98.5 522.0,98.5" fill="#000"/>
<polygon points="550.4,311.3 555.6,311.3 555.6,331.1 563.2,331.1 563.2,334.4 561.7,344.1 559.7,351.8 557.7,359.6 556.0,365.9 554.4,368.1 551.6,368.1 550.0,365.9 548.3,359.6 546.3,351.8 544.3,344.1 542.8,334.4 542.8,331.1 550.4,331.1" fill="#000"/>
<polygon points="412.4,456.6 417.6,456.6 417.6,480.9 425.2,480.9 425.2,484.2 423.7,493.8 421.7,501.6 419.7,509.4 418.0,515.7 416.4,517.9 413.6,517.9 412.0,515.7 410.3,509.4 408.3,501.6 406.3,493.8 404.8,484.2 404.8,480.9 412.4,480.9" fill="#000"/>
<polygon points="524.1,393.0 529.4,393.0 529.4,411.8 536.9,411.8 536.9,415.1 535.4,424.8 533.4,432.5 531.4,440.3 529.7,446.6 528.1,448.8 525.3,448.8 523.7,446.6 522.0,440.3 520.0,432.5 518.0,424.8 516.5,415.1 516.5,411.8 524.1,411.8" fill="#000"/>
<polygon points="672.6,578.4 677.9,578.4 677.9,587.0 685.4,587.0 685.4,590.3 683.9,600.0 681.9,607.7 679.9,615.5 678.2,621.8 676.6,624.0 673.8,624.0 672.2,621.8 670.5,615.5 668.5,607.7 666.5,600.0 665.0,590.3 665.0,587.0 672.6,587.0" fill="#000"/>
<polygon points="418.6,1076.7 423.8,1076.7 423.8,1096.5 431.4,1096.5 431.4,1099.8 429.9,1109.5 427.9,1117.2 425.9,1125.0 424.2,1131.3 422.6,1133.5 419.8,1133.5 418.2,1131.3 416.5,1125.0 414.5,1117.2 412.5,1109.5 411.0,1099.8 411.0,1096.5 418.6,1096.5" fill="#000"/>
<polygon points="672.9,1172.6 678.1,1172.6 678.1,1199.7 685.7,1199.7 685.7,1203.0 684.2,1212.7 682.2,1220.4 680.2,1228.2 678.5,1234.5 676.9,1236.7 674.1,1236.7 672.5,1234.5 670.8,1228.2 668.8,1220.4 666.8,1212.7 665.3,1203.0 665.3,1199.7 672.9,1199.7" fill="#000"/>
<polygon points="832.4,1127.4 837.6,1127.4 837.6,1149.8 845.2,1149.8 845.2,1153.1 843.7,1162.8 841.7,1170.5 839.7,1178.3 838.0,1184.6 836.4,1186.8 833.6,1186.8 832.0,1184.6 830.3,1178.3 828.3,1170.5 826.3,1162.8 824.8,1153.1 824.8,1149.8 832.4,1149.8" fill="#000"/>
<g fill="#000"><polygon points="269.41,632.16 268.93,627.18 266.92,625.64 266.92,620.30 273.08,620.30 273.08,625.64 271.07,627.18 270.59,632.16"/><polygon points="269.90,631.58 274.72,630.25 275.89,627.99 281.15,627.07 282.22,633.14 276.96,634.07 275.09,632.35 270.10,632.75"/><polygon points="270.48,631.81 273.79,635.57 276.33,635.63 279.47,639.95 274.48,643.57 271.34,639.25 272.06,636.82 269.52,632.51"/><polygon points="270.48,632.51 267.94,636.82 268.66,639.25 265.52,643.57 260.53,639.95 263.67,635.63 266.21,635.57 269.52,631.81"/><polygon points="269.90,632.75 264.91,632.35 263.04,634.07 257.78,633.14 258.85,627.07 264.11,627.99 265.28,630.25 270.10,631.58"/></g>
<g fill="#000"><polygon points="602.18,586.89 601.72,582.06 599.76,580.57 599.76,575.40 605.74,575.40 605.74,580.57 603.78,582.06 603.32,586.89"/><polygon points="602.65,586.32 607.32,585.03 608.45,582.85 613.54,581.95 614.58,587.83 609.49,588.73 607.68,587.07 602.85,587.45"/><polygon points="603.21,586.55 606.42,590.18 608.88,590.24 611.92,594.42 607.09,597.94 604.05,593.75 604.75,591.40 602.29,587.22"/><polygon points="603.21,587.22 600.75,591.40 601.45,593.75 598.41,597.94 593.58,594.42 596.62,590.24 599.08,590.18 602.29,586.55"/><polygon points="602.65,587.45 597.82,587.07 596.01,588.73 590.92,587.83 591.96,581.95 597.05,582.85 598.18,585.03 602.85,586.32"/></g>
<g fill="#000"><polygon points="259.20,1268.06 258.71,1262.99 256.66,1261.43 256.66,1256.00 262.94,1256.00 262.94,1261.43 260.89,1262.99 260.40,1268.06"/><polygon points="259.70,1267.47 264.60,1266.11 265.79,1263.82 271.13,1262.88 272.22,1269.05 266.88,1269.99 264.98,1268.25 259.90,1268.65"/><polygon points="260.29,1267.70 263.65,1271.52 266.23,1271.58 269.42,1275.97 264.35,1279.66 261.16,1275.27 261.90,1272.79 259.31,1268.41"/><polygon points="260.29,1268.41 257.70,1272.79 258.44,1275.27 255.25,1279.66 250.18,1275.97 253.37,1271.58 255.95,1271.52 259.31,1267.70"/><polygon points="259.70,1268.65 254.62,1268.25 252.72,1269.99 247.38,1269.05 248.47,1262.88 253.81,1263.82 255.00,1266.11 259.90,1267.47"/></g>
<g fill="#000"><polygon points="607.61,1194.36 607.13,1189.38 605.12,1187.84 605.12,1182.50 611.28,1182.50 611.28,1187.84 609.27,1189.38 608.79,1194.36"/><polygon points="608.10,1193.78 612.92,1192.45 614.09,1190.19 619.35,1189.27 620.42,1195.34 615.16,1196.27 613.29,1194.55 608.30,1194.95"/><polygon points="608.68,1194.01 611.99,1197.77 614.53,1197.83 617.67,1202.15 612.68,1205.77 609.54,1201.45 610.26,1199.02 607.72,1194.71"/><polygon points="608.68,1194.71 606.14,1199.02 606.86,1201.45 603.72,1205.77 598.73,1202.15 601.87,1197.83 604.41,1197.77 607.72,1194.01"/><polygon points="608.10,1194.95 603.11,1194.55 601.24,1196.27 595.98,1195.34 597.05,1189.27 602.31,1190.19 603.48,1192.45 608.30,1193.78"/></g>
<ellipse cx="462.7" cy="342.4" rx="12.4" ry="13.9" fill="#c0c0c0" stroke="#111" stroke-width="1.5"/>
<ellipse cx="495.2" cy="347.4" rx="12.3" ry="13.5" fill="#c0c0c0" stroke="#111" stroke-width="1.5"/>
<text transform="translate(1533.38,628.05) scale(0.51935,0.54627)" font-size="100">-OH</text>
<text transform="translate(1601.30,697.56) scale(0.52547,0.54222)" font-size="100">3383cm</text>
<text transform="translate(1774.16,663.40) scale(0.29664,0.32824)" font-size="100">-1</text>
<text transform="translate(1516.93,1059.56) scale(0.51646,0.54074)" font-size="100">3410cm</text>
<text transform="translate(1848.57,1109.84) scale(0.52153,0.55821)" font-size="100">-OH</text>
<text transform="translate(1972.39,1118.38) scale(0.52143,0.51642)" font-size="100">CO</text>
<text transform="translate(2048.91,1090.60) scale(0.32318,0.30000)" font-size="100">2-</text>
<text transform="translate(2049.02,1139.52) scale(0.29412,0.27910)" font-size="100">3</text>
<text transform="translate(2214.51,372.96) scale(0.52528,0.54478)" font-size="100">PO</text>
<text transform="translate(2285.62,344.58) scale(0.31921,0.32090)" font-size="100">3-</text>
<text transform="translate(2286.14,391.90) scale(0.30538,0.30229)" font-size="100">4</text>
<polygon points="1566.6,677.9 1572.0,677.9 1572.0,699.0 1579.5,699.0 1579.5,702.3 1578.0,712.0 1576.0,719.7 1574.0,727.5 1572.3,733.8 1570.7,736.0 1567.9,736.0 1566.3,733.8 1564.6,727.5 1562.6,719.7 1560.6,712.0 1559.1,702.3 1559.1,699.0 1566.6,699.0" fill="#000"/>
<polygon points="1555.4,1075.1 1560.8,1075.1 1560.8,1092.2 1568.3,1092.2 1568.3,1095.5 1566.8,1105.2 1564.8,1112.9 1562.8,1120.7 1561.1,1127.0 1559.5,1129.2 1556.7,1129.2 1555.1,1127.0 1553.4,1120.7 1551.4,1112.9 1549.4,1105.2 1547.9,1095.5 1547.9,1092.2 1555.4,1092.2" fill="#000"/>
<polygon points="1908.2,1138.1 1913.6,1138.1 1913.6,1157.8 1921.1,1157.8 1921.1,1161.1 1919.6,1170.8 1917.6,1178.5 1915.6,1186.3 1913.9,1192.6 1912.3,1194.8 1909.5,1194.8 1907.9,1192.6 1906.2,1186.3 1904.2,1178.5 1902.2,1170.8 1900.7,1161.1 1900.7,1157.8 1908.2,1157.8" fill="#000"/>
<polygon points="1999.4,1154.6 2004.8,1154.6 2004.8,1173.6 2012.3,1173.6 2012.3,1176.9 2010.8,1186.5 2008.8,1194.3 2006.8,1202.1 2005.1,1208.4 2003.5,1210.6 2000.7,1210.6 1999.1,1208.4 1997.4,1202.1 1995.4,1194.3 1993.4,1186.5 1991.9,1176.9 1991.9,1173.6 1999.4,1173.6" fill="#000"/>
<line x1="2209.3" y1="269.0" x2="2171.8" y2="131.8" stroke="#000" stroke-width="3.4"/><path d="M2161.2,93.2 L2181.4,129.1 L2162.1,134.4 Z" fill="#000"/>
<line x1="2272.1" y1="441.2" x2="2311.8" y2="579.8" stroke="#000" stroke-width="3.4"/><path d="M2322.8,618.3 L2302.2,582.6 L2321.4,577.1 Z" fill="#000"/>
<text transform="translate(1686.83,1030.10) scale(0.27651,0.28397)" font-size="100">-1</text>
<path d="M1363.5,1369.5 C1368.3,1369.5 1381.4,1369.9 1392.3,1369.5 C1403.2,1369.1 1419.6,1368.2 1428.9,1366.9 C1438.2,1365.7 1443.2,1364.2 1448.0,1362.0 C1452.8,1359.8 1455.2,1357.2 1458.0,1354.0 C1460.8,1350.8 1463.0,1347.2 1465.0,1343.0 C1467.0,1338.8 1468.2,1336.6 1470.1,1328.9 C1472.0,1321.2 1474.2,1308.7 1476.2,1296.6 C1478.2,1284.5 1480.3,1269.6 1482.3,1256.1 C1484.3,1242.6 1486.5,1229.1 1488.3,1215.6 C1490.1,1202.1 1491.5,1188.7 1493.2,1175.2 C1494.9,1161.7 1496.7,1148.2 1498.4,1134.7 C1500.1,1121.2 1501.6,1107.7 1503.3,1094.2 C1505.0,1080.7 1506.9,1067.3 1508.6,1053.8 C1510.3,1040.3 1511.7,1026.8 1513.4,1013.3 C1515.1,999.8 1516.8,986.3 1518.7,972.8 C1520.6,959.3 1522.8,945.8 1524.8,932.3 C1526.8,918.8 1528.8,905.4 1530.8,891.9 C1532.8,878.4 1534.9,864.9 1536.9,851.4 C1538.9,837.9 1540.7,824.2 1543.0,811.0 C1545.3,797.8 1548.2,781.8 1551.0,772.0 C1553.8,762.2 1557.2,756.6 1560.0,752.0 C1562.8,747.4 1565.5,745.2 1568.0,744.5 C1570.5,743.8 1572.4,745.8 1575.0,748.0 C1577.6,750.2 1581.0,754.5 1583.5,757.5 C1586.0,760.5 1587.4,763.4 1590.0,766.0 C1592.6,768.6 1595.0,770.0 1599.2,773.1 C1603.4,776.2 1610.0,780.3 1614.9,784.9 C1619.8,789.5 1624.7,794.7 1628.6,800.6 C1632.5,806.5 1634.8,812.4 1638.4,820.2 C1642.0,828.0 1646.3,837.8 1650.2,847.6 C1654.1,857.4 1657.4,867.2 1662.0,879.0 C1666.6,890.8 1672.4,905.1 1677.6,918.2 C1682.8,931.3 1688.4,943.8 1693.3,957.5 C1698.2,971.2 1703.0,987.5 1707.2,1000.6 C1711.4,1013.7 1714.4,1024.1 1718.6,1035.9 C1722.8,1047.7 1728.2,1059.4 1732.5,1071.2 C1736.8,1083.0 1740.4,1094.7 1744.3,1106.5 C1748.2,1118.3 1752.2,1130.7 1756.1,1141.8 C1760.0,1152.9 1763.2,1161.3 1767.8,1173.1 C1772.4,1184.9 1778.3,1200.0 1783.5,1212.4 C1788.7,1224.8 1793.3,1235.8 1799.2,1247.6 C1805.1,1259.3 1811.6,1272.4 1818.8,1282.9 C1826.0,1293.4 1834.2,1302.9 1842.4,1310.4 C1850.6,1317.9 1863.6,1325.1 1867.8,1328.0" stroke="#ff0000" stroke-width="9.6" fill="none" stroke-linejoin="round" clip-path="url(#cl1)"/>
<defs><clipPath id="cl1"><rect x="1680" y="1000" width="40" height="40"/></clipPath></defs>
</svg>
</body></html>
